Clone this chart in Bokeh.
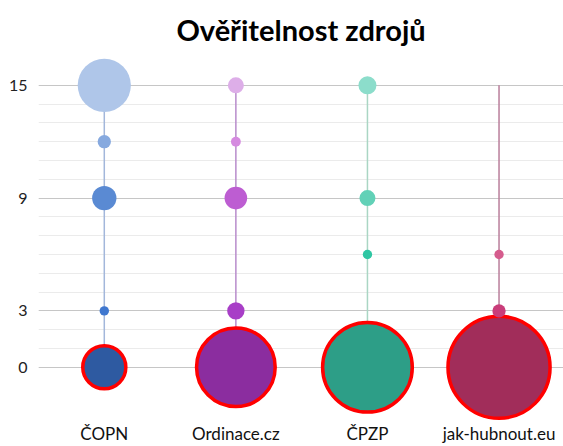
import math
from bokeh.plotting import figure
from bokeh.models import Range1d, FixedTicker, ColumnDataSource
from bokeh.embed import file_html
from bokeh.resources import INLINE

# ---- data ----
categories = ["ČOPN", "Ordinace.cz", "ČPZP", "jak-hubnout.eu"]
y_ticks = [0, 3, 9, 15]

copn_levels = [15, 12, 9, 3, 0]
copn_sizes = [32, 2, 6.7, 1, 21]
ordinace_levels = [15, 12, 9, 3, 0]
ordinace_sizes = [2.9, 1.1, 5.8, 3.4, 70]
cpzp_levels = [15, 9, 6, 0]
cpzp_sizes = [3.7, 2.9, 1, 91]
jak_levels = [6, 3, 0]
jak_sizes = [1, 2, 118]

stem_top = [15, 15, 15, 15]
stem_bottom = [0, 0, 0, 0]

# ---- styles ----
copn_colors = ["#AFC6E9", "#86A9DF", "#5A8AD3", "#3F77CF", "#2E5AA1"]
ordinace_colors = ["#DDAEE8", "#D58AE0", "#BD5DD2", "#A83EC7", "#8B2D9F"]
cpzp_colors = ["#8CDDCB", "#62D1B7", "#2FC6A3", "#2D9E87"]
jak_colors = ["#D55C8D", "#C93D7A", "#A12D5A"]
stem_colors = ["#A3B7DB", "#B88CCB", "#AAD6C4", "#B97E9B"]
PX_PER_SQRT = 4.7

series = [
    (copn_levels, copn_sizes, copn_colors),
    (ordinace_levels, ordinace_sizes, ordinace_colors),
    (cpzp_levels, cpzp_sizes, cpzp_colors),
    (jak_levels, jak_sizes, jak_colors),
]

xs, ys, diam, fills, lcols, lwid = [], [], [], [], [], []
for i, (lv, sz, cl) in enumerate(series):
    for y, s, c in zip(lv, sz, cl):
        xs.append(i + 0.5)
        ys.append(y)
        diam.append(2 * PX_PER_SQRT * math.sqrt(s))
        fills.append(c)
        lcols.append("#FF0000" if y == 0 else None)
        lwid.append(3.5 if y == 0 else 0)

order = sorted(range(len(xs)), key=lambda k: -diam[k])
src = ColumnDataSource(dict(
    x=[xs[k] for k in order], y=[ys[k] for k in order],
    size=[diam[k] for k in order], fill=[fills[k] for k in order],
    lc=[lcols[k] for k in order], lw=[lwid[k] for k in order],
))

cat_pos = [i + 0.5 for i in range(len(categories))]

p = figure(width=563, height=446, output_backend="svg", toolbar_location=None,
           x_range=Range1d(0, 3.99), y_range=Range1d(-2.83, 16.64),
           min_border_left=38, min_border_right=0, min_border_top=54,
           min_border_bottom=0)
p.outline_line_color = None
p.background_fill_color = "white"
p.border_fill_color = "white"

p.title.text = "Ověřitelnost zdrojů"
p.title.align = "center"
p.title.text_font = "Lato"
p.title.text_font_style = "bold"
p.title.text_font_size = "29px"
p.title.text_color = "#000000"
p.title.standoff = 15
p.title.offset = -6

# grids
p.xgrid.visible = False
p.ygrid.ticker = FixedTicker(ticks=y_ticks, minor_ticks=list(range(0, 16)))
p.ygrid.grid_line_color = "#C6C6C6"
p.ygrid.grid_line_width = 1
p.ygrid.minor_grid_line_color = "#EBEBEB"
p.ygrid.minor_grid_line_width = 1

# axes
p.yaxis.ticker = FixedTicker(ticks=y_ticks)
p.yaxis.axis_line_color = None
p.yaxis.major_tick_line_color = None
p.yaxis.minor_tick_line_color = None
p.yaxis.major_tick_out = 0
p.yaxis.major_tick_in = 0
p.yaxis.minor_tick_out = 0
p.yaxis.major_label_text_font = "Lato"
p.yaxis.major_label_text_font_size = "16px"
p.yaxis.major_label_text_color = "#222222"
p.yaxis.major_label_standoff = 11

p.xaxis.ticker = FixedTicker(ticks=cat_pos)
p.xaxis.major_label_overrides = {pos: c for pos, c in zip(cat_pos, categories)}
p.xaxis.axis_line_color = None
p.xaxis.major_tick_line_color = None
p.xaxis.minor_tick_line_color = None
p.xaxis.major_tick_out = 0
p.xaxis.major_tick_in = 0
p.xaxis.minor_tick_out = 0
p.xaxis.major_label_text_font = "Lato"
p.xaxis.major_label_text_font_size = "17px"
p.xaxis.major_label_text_color = "#111111"
p.xaxis.major_label_standoff = 2

# stems
p.segment(x0=cat_pos, y0=stem_bottom, x1=cat_pos, y1=stem_top,
          line_color=stem_colors, line_width=1.5)

# bubbles
p.scatter(x="x", y="y", size="size", fill_color="fill", line_color="lc",
          line_width="lw", source=src)

open("out.html", "w").write(file_html(p, INLINE))
